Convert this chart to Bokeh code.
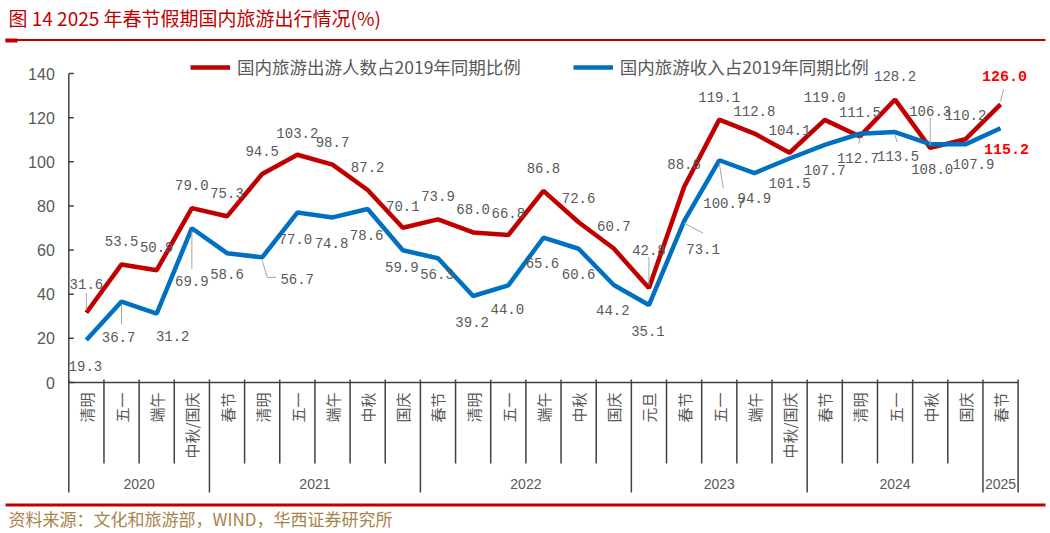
import math
from bokeh.plotting import figure
from bokeh.models import (ColumnDataSource, Range1d, Label, Grid,
                          BoxAnnotation, Legend, LegendItem)
from bokeh.core.properties import value
from bokeh.embed import file_html
from bokeh.resources import INLINE

# ---------------- data ----------------
title_text = "图 14 2025 年春节假期国内旅游出行情况(%)"
source_text = "资料来源：文化和旅游部，WIND，华西证券研究所"
series_names = ["国内旅游出游人数占2019年同期比例", "国内旅游收入占2019年同期比例"]

years = ["2020", "2021", "2022", "2023", "2024", "2025"]
holidays_2020 = ["清明", "五一", "端午", "中秋/国庆"]
holidays_2021 = ["春节", "清明", "五一", "端午", "中秋", "国庆"]
holidays_2022 = ["春节", "清明", "五一", "端午", "中秋", "国庆"]
holidays_2023 = ["元旦", "春节", "五一", "端午", "中秋/国庆"]
holidays_2024 = ["春节", "清明", "五一", "中秋", "国庆"]
holidays_2025 = ["春节"]
year_holidays = [holidays_2020, holidays_2021, holidays_2022,
                 holidays_2023, holidays_2024, holidays_2025]

trips_pct = [31.6, 53.5, 50.9, 79.0, 75.3, 94.5, 103.2, 98.7, 87.2, 70.1, 73.9,
             68.0, 66.8, 86.8, 72.6, 60.7, 42.8, 88.6, 119.1, 112.8, 104.1,
             119.0, 111.5, 128.2, 106.3, 110.2, 126.0]
revenue_pct = [19.3, 36.7, 31.2, 69.9, 58.6, 56.7, 77.0, 74.8, 78.6, 59.9, 56.3,
               39.2, 44.0, 65.6, 60.6, 44.2, 35.1, 73.1, 100.7, 94.9, 101.5,
               107.7, 112.7, 113.5, 108.0, 107.9, 115.2]
y_ticks = [0, 20, 40, 60, 80, 100, 120, 140]

# ---------------- label placement (pixels, screen: +dy = down) ----------------
red_dx = [0] * 27
red_dx[26] = 4
red_dy = [-29, -23, -23, -23, -23, -23, -22, -23, -23, -22, -23, -23, -22, -23,
          -24, -23, -38, -23, -23, -23, -23, -23, -24, -24, -37, -24, -28]
blue_dx = [-1, -3, 16, 0, 0, 35, -2, -1, -1, -1, -1, -1, -1, -1, 0, -1, -1, 19,
           5, 0, 0, 0, -2, 3, 2, 8, 6]
blue_dy = [26, 35, 22, 53, 21, 22, 26, 26, 26, 17, 16, 26, 24, 25, 25, 25, 26,
           28, 43, 25, 25, 25, 24, 24, 25, 20, 21]
# leader lines: (series, index, x0, y0, x1, y1) in pixel offsets from the point
leaders = [("r", 0, 0, -3, 0, -20), ("r", 16, 0, -3, 0, -31), ("r", 24, 0, -3, 0, -30),
           ("r", 26, 0, -3, 3, -15),
           ("b", 1, 0, 3, 0, 23), ("b", 3, 0, 3, 0, 41), ("b", 5, 0, 3, 5, 20),
           ("b", 5, 5, 20, 14, 20), ("b", 17, 0, 2, 19, 12), ("b", 18, 0, 3, 4, 28),
           ("b", 22, 0, 3, -1, 10), ("b", 23, 0, 3, 2, 10)]

# ---------------- geometry ----------------
W, H = 1050, 533
AXIS_X = 68.3       # page x of the value axis
XS = 35.16          # px per category
YS = 2.207          # px per percentage point
Y0 = 382            # page y of value 0
x_start = -0.5 - AXIS_X / XS
x_end = x_start + W / XS
y_end = Y0 / YS
y_start = -(H - Y0) / YS

def vy(page_y):
    return (Y0 - page_y) / YS

def vx(page_x):
    return x_start + page_x / XS

n = len(trips_pct)
xs = list(range(n))
categories = [h for hs in year_holidays for h in hs]

p = figure(width=W, height=H, x_range=Range1d(x_start, x_end),
           y_range=Range1d(y_start, y_end), x_axis_location=None,
           y_axis_location=None, toolbar_location=None, output_backend="svg",
           min_border_left=0, min_border_right=0, min_border_top=0,
           min_border_bottom=0, outline_line_color=None)
p.background_fill_color = "white"
p.border_fill_color = "white"
for g in p.select(type=Grid):
    g.visible = False

axis_color = "#404040"
label_gray = "#595959"

# value axis
p.segment(x0=[-0.5], y0=[y_ticks[0]], x1=[-0.5], y1=[y_ticks[-1]],
          line_color=axis_color, line_width=1.5)
p.segment(x0=[-0.5] * len(y_ticks), y0=y_ticks, x1=[-0.5 + 5 / XS] * len(y_ticks),
          y1=y_ticks, line_color=axis_color, line_width=1.5)
p.text(x=[-0.5 - 14 / XS] * len(y_ticks), y=y_ticks, text=[str(t) for t in y_ticks],
       text_align="right", text_baseline="middle", text_font=value("Liberation Sans"),
       text_font_size="16px", text_color=label_gray)

# category axis drawn from the category structure
p.segment(x0=[-0.5], y0=[0], x1=[n - 0.5], y1=[0], line_color=axis_color, line_width=1.5)
counts = [len(h) for h in year_holidays]
year_bounds = [0]
for c in counts:
    year_bounds.append(year_bounds[-1] + c)
bounds_all = [k - 0.5 for k in range(n + 1)]
is_year = [k in year_bounds for k in range(n + 1)]
p.segment(x0=bounds_all, x1=bounds_all, y0=[3 / YS] * (n + 1),
          y1=[-(110 if yb else 81) / YS for yb in is_year],
          line_color=axis_color, line_width=1.5)
p.text(x=xs, y=[-10 / YS] * n, text=categories, angle=math.pi / 2,
       text_align="right", text_baseline="middle",
       text_font=value("Noto Sans CJK SC"), text_font_size="15px", text_color=label_gray)
year_centers = [(year_bounds[i] + year_bounds[i + 1] - 1) / 2 for i in range(len(years))]
p.text(x=year_centers, y=[-101 / YS] * len(years), text=years, text_align="center",
       text_baseline="middle", text_font=value("Liberation Sans"),
       text_font_size="14px", text_color=label_gray)

# series lines
r_red = p.line(xs, trips_pct, line_color="#C00000", line_width=4.5)
r_blue = p.line(xs, revenue_pct, line_color="#0070C0", line_width=4.5)

# leader lines
lx0, ly0, lx1, ly1 = [], [], [], []
for s, i, ax0, ay0, ax1, ay1 in leaders:
    v = trips_pct[i] if s == "r" else revenue_pct[i]
    lx0.append(i + ax0 / XS); ly0.append(v - ay0 / YS)
    lx1.append(i + ax1 / XS); ly1.append(v - ay1 / YS)
p.segment(x0=lx0, y0=ly0, x1=lx1, y1=ly1, line_color="#A6A6A6", line_width=1)

# data labels
def add_labels(vals, dxs, dys):
    src = ColumnDataSource(dict(x=xs[:-1], y=vals[:-1], t=[f"{v:.1f}" for v in vals[:-1]],
                                dx=dxs[:-1], dy=dys[:-1]))
    p.text(x="x", y="y", text="t", x_offset="dx", y_offset="dy", source=src,
           text_align="center", text_baseline="middle",
           text_font=value("Liberation Mono"), text_font_size="14px",
           text_color=label_gray)
    last = ColumnDataSource(dict(x=[xs[-1]], y=[vals[-1]], t=[f"{vals[-1]:.1f}"],
                                 dx=[dxs[-1]], dy=[dys[-1]]))
    p.text(x="x", y="y", text="t", x_offset="dx", y_offset="dy", source=last,
           text_align="center", text_baseline="middle",
           text_font=value("Liberation Mono"), text_font_size="15px",
           text_font_style="bold", text_color="#FF0000")

add_labels(trips_pct, red_dx, red_dy)
add_labels(revenue_pct, blue_dx, blue_dy)

legend = Legend(items=[LegendItem(label=series_names[0], renderers=[r_red]),
                       LegendItem(label=series_names[1], renderers=[r_blue])],
                orientation="horizontal", location=(190, H - 79), padding=0, margin=0,
                spacing=52, glyph_width=40, glyph_height=20, label_standoff=7,
                label_text_font="Noto Sans CJK SC", label_text_font_size="17.5px",
                label_text_color=label_gray, border_line_color=None,
                background_fill_alpha=0)
p.add_layout(legend)

# title, source, rules
p.add_layout(Label(x=vx(8), y=vy(17), text=title_text, text_align="left",
                   text_baseline="middle", text_font="Noto Sans CJK SC",
                   text_font_size="19px", text_color="#C00000"))
p.add_layout(Label(x=vx(8), y=vy(518), text=source_text, text_align="left",
                   text_baseline="middle", text_font="Noto Sans CJK SC",
                   text_font_size="17px", text_color="#A8844C"))
p.add_layout(BoxAnnotation(left=vx(5), right=vx(1045), top=vy(38.5), bottom=vy(40.5),
                           fill_color="#C00000", fill_alpha=1, line_color=None))
p.add_layout(BoxAnnotation(left=vx(5), right=vx(17), top=vy(38), bottom=vy(42),
                           fill_color="#C00000", fill_alpha=1, line_color=None))
p.add_layout(BoxAnnotation(left=vx(5), right=vx(1045), top=vy(503), bottom=vy(506),
                           fill_color="#C00000", fill_alpha=1, line_color=None))

open("out.html", "w").write(file_html(p, INLINE))
